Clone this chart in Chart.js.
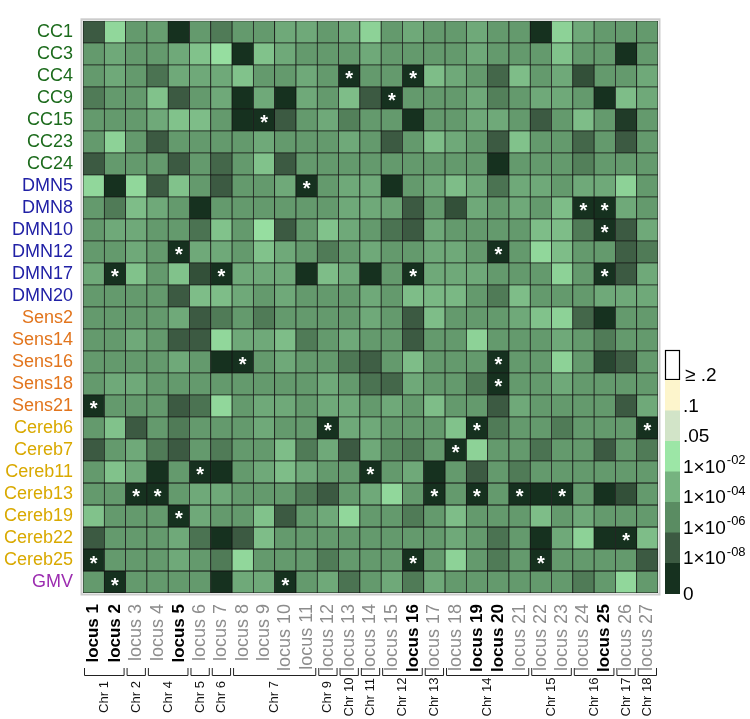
<!DOCTYPE html>
<html>
<head>
<meta charset="utf-8">
<script src="https://cdn.jsdelivr.net/npm/chart.js@4.4.1/dist/chart.umd.min.js"></script>
<style>
body{margin:0;background:#fff;}
</style>
</head>
<body>
<canvas id="grafico" width="750" height="719"></canvas>
<script>
// -log10(p) de cada celda, una lista por fenotipo (columnas = locus 1..27)
const vCC1    = [8, 2.6, 5.3, 5.1, 11, 5.3, 6.7, 5.3, 5.3, 4.5, 4.5, 5.3, 4.5, 2.8, 5.3, 4.5, 5.3, 5.3, 4.5, 5.3, 5.3, 11, 2.8, 4.5, 5.3, 5.3, 5.3];
const vCC3    = [5.3, 4.5, 5.3, 5.3, 4.5, 3.4, 2.3, 10, 3.4, 4.5, 5.3, 5.3, 5.3, 4.5, 5.3, 5.3, 5.3, 5.3, 4.5, 5.3, 5.3, 5.3, 3.4, 5.3, 5.3, 11, 5.3];
const vCC4    = [5.3, 4.5, 5.3, 7, 4.5, 4.5, 4.5, 3.4, 5.3, 5.3, 4.5, 5.3, 11, 5.3, 5.3, 11, 3.6, 4.5, 5.3, 7.5, 3.6, 5.3, 4.5, 8.5, 5.3, 5.3, 4.5];
const vCC9    = [6.7, 5.3, 5.3, 3.4, 8, 5.3, 4.5, 11, 4.5, 11, 4.5, 5.3, 3.6, 8, 11, 5.3, 5.3, 5.3, 4.5, 6.5, 5.3, 4.5, 4.5, 5.3, 11, 3.6, 4.5];
const vCC15   = [5.3, 5.3, 5.3, 4.5, 3.4, 3.6, 5.3, 10, 11, 8, 5.3, 4.5, 6.5, 5.3, 5.3, 11, 5.3, 5.3, 4.5, 4.5, 5.3, 8, 5.3, 3.6, 5.3, 9.5, 5.3];
const vCC23   = [5.3, 2.8, 5.3, 8, 5.3, 5.3, 5.3, 5.3, 4.5, 5.3, 5.3, 5.3, 4.5, 5.3, 8, 5.3, 3.6, 4.5, 5.3, 8, 3.4, 5.3, 5.3, 7.5, 5.3, 8, 5.3];
const vCC24   = [8, 5.3, 5.3, 5.3, 8, 5.3, 7.5, 5.3, 3.4, 8, 5.3, 5.3, 5.3, 5.3, 5.3, 5.3, 5.3, 5.3, 5.3, 11, 5.3, 5.3, 5.3, 6.5, 5.3, 5.3, 5.3];
const vDMN5   = [2.6, 11, 2.6, 8, 3.4, 5.3, 8, 5.3, 5.3, 4.5, 11, 5.3, 4.5, 4.5, 11, 5.3, 4.5, 3.6, 4.5, 7, 4.5, 4.5, 5.3, 4.5, 4.5, 2.8, 5.3];
const vDMN8   = [5.3, 6.7, 3.6, 4.5, 5.3, 11, 5.3, 5.3, 5.3, 5.3, 5.3, 5.3, 4.5, 4.5, 4.8, 8, 5.3, 8.5, 4.5, 5.3, 4.5, 5.3, 3.6, 11, 11, 4.5, 5.3];
const vDMN10  = [5.3, 4.5, 4.5, 5.3, 5.3, 7, 3.4, 5.3, 2.3, 8, 5.3, 3.4, 4.5, 5.3, 7, 8, 4.5, 5.3, 5.3, 5.3, 5.3, 3.6, 3.6, 6.7, 11, 8, 4.5];
const vDMN12  = [5.3, 5.3, 4.5, 5.3, 11, 4.5, 4.5, 5.3, 3.4, 4.5, 5.3, 6.7, 5.3, 4.5, 5.3, 5.3, 4.5, 4.5, 5.3, 11, 5.3, 2.6, 3.6, 5.3, 5.3, 7.8, 6.7];
const vDMN17  = [4.5, 11, 3.4, 5.3, 3.4, 8.5, 11, 4.5, 4.5, 4.5, 11, 3.6, 4.5, 11, 5.3, 11, 4.5, 4.5, 4.5, 5.3, 5.3, 5.3, 2.8, 5.3, 11, 8, 4.5];
const vDMN20  = [5.3, 5.3, 5.3, 5.3, 8, 3.6, 3.6, 4.5, 5.3, 4.5, 5.3, 5.3, 5.3, 4.5, 5.3, 3.6, 3.8, 3.8, 5.3, 6.7, 3.6, 5.3, 5.3, 5.3, 4.5, 4.5, 4.5];
const vSens2  = [5.3, 5.3, 5.3, 5.3, 4.5, 8, 6.7, 5.3, 6.7, 5.3, 5.3, 5.3, 5.3, 4.5, 5.3, 8, 3.6, 5.3, 5.3, 5.3, 4.5, 3.4, 2.8, 7.5, 11, 5.3, 5.3];
const vSens14 = [5.3, 5.3, 4.5, 5.3, 8, 8, 2.6, 4.5, 4.5, 3.6, 6.7, 5.3, 4.5, 5.3, 5.3, 8, 5.3, 5.3, 2.8, 5.3, 5.3, 5.3, 4.5, 5.3, 6.7, 5.3, 5.3];
const vSens16 = [5.3, 5.3, 5.3, 5.3, 4.5, 5.3, 11, 11, 5.3, 4.5, 5.3, 5.3, 6.8, 7.8, 5.3, 3.6, 5.3, 5.3, 5.3, 11, 5.3, 5.3, 2.8, 5.3, 9, 7.8, 5.3];
const vSens18 = [5.3, 4.5, 4.5, 5.3, 5.3, 5.3, 5.3, 5.3, 5.3, 5.3, 5.3, 4.5, 5.3, 7, 7.5, 4.5, 5.3, 5.3, 6.7, 11, 5.3, 5.3, 4.5, 5.3, 5.3, 5.3, 5.3];
const vSens21 = [11, 5.3, 5.3, 5.3, 8, 7, 2.6, 5.3, 4.5, 4.5, 5.3, 4.5, 4.5, 5.3, 4.5, 5.3, 3.6, 5.3, 5.3, 8, 4.5, 5.3, 5.3, 5.3, 5.3, 8, 4.5];
const vCereb6 = [5.3, 3.4, 8, 5.3, 6.7, 5.3, 5.3, 5.3, 4.5, 5.3, 5.3, 11, 4.5, 4.5, 5.3, 5.3, 5.3, 3.4, 11, 6.7, 5.3, 5.3, 6.7, 5.3, 5.3, 5.3, 11];
const vCereb7 = [8, 5.3, 4.5, 6.7, 8, 5.3, 6.7, 5.3, 5.3, 3.6, 6.7, 4.5, 8, 4.5, 6, 6.7, 5.3, 11, 2.8, 5.3, 5.3, 7, 5.3, 5.3, 8, 5.3, 6.7];
const vCereb11 = [5.3, 3.4, 4.5, 11, 5.3, 11, 11, 5.3, 4.5, 3.6, 4.5, 5.3, 5.3, 11, 5.3, 4.5, 11, 5.3, 8, 5.3, 6.7, 5.3, 5.3, 5.3, 5.3, 5.3, 5.3];
const vCereb13 = [5.3, 5.3, 11, 11, 5.3, 4.5, 4.5, 5.3, 5.3, 5.3, 6.7, 8, 5.3, 4.5, 2.6, 5.3, 11, 5.3, 11, 5.3, 11, 11, 11, 5.3, 11, 8.5, 5.3];
const vCereb19 = [3.4, 5.3, 5.3, 5.3, 11, 4.5, 5.3, 5.3, 3.4, 8, 5.3, 4.5, 2.6, 5.3, 5.3, 6.7, 5.3, 3.6, 5.3, 5.3, 5.3, 3.6, 5.3, 4.5, 5.3, 5.3, 5.3];
const vCereb22 = [8, 5.3, 5.3, 5.3, 4.5, 7, 11, 8, 3.6, 5.3, 5.3, 5.3, 5.3, 5.3, 5.3, 5.3, 5.3, 4.5, 5.3, 7, 5.3, 11, 4.5, 2.8, 11, 11, 3.6];
const vCereb25 = [11, 5.3, 5.3, 5.3, 4.5, 5.3, 6.7, 2.6, 5.3, 5.3, 5.3, 6.7, 5.3, 5.3, 5.3, 11, 5.3, 2.8, 5.3, 6.7, 5.3, 11, 5.3, 5.3, 5.3, 5.3, 8];
const vGMV    = [5.3, 11, 5.3, 5.3, 5.3, 5.3, 11, 4.5, 4.5, 11, 5.3, 4.5, 7, 5.3, 4.5, 6.7, 4.5, 5.3, 5.3, 5.3, 5.3, 5.3, 5.3, 6.7, 5.3, 2.6, 5.3];

const filas = ['CC1','CC3','CC4','CC9','CC15','CC23','CC24','DMN5','DMN8','DMN10','DMN12','DMN17','DMN20',
    'Sens2','Sens14','Sens16','Sens18','Sens21','Cereb6','Cereb7','Cereb11','Cereb13','Cereb19','Cereb22','Cereb25','GMV'];
const valores = [vCC1, vCC3, vCC4, vCC9, vCC15, vCC23, vCC24, vDMN5, vDMN8, vDMN10, vDMN12, vDMN17, vDMN20,
    vSens2, vSens14, vSens16, vSens18, vSens21, vCereb6, vCereb7, vCereb11, vCereb13, vCereb19, vCereb22, vCereb25, vGMV];

const loci = [];
for (let i = 1; i <= 27; i++) loci.push('locus ' + i);
const lociNegrita = [1, 2, 5, 16, 19, 20, 25];

// celdas marcadas con asterisco [fenotipo, locus]
const estrellas = [['CC4',13],['CC4',16],['CC9',15],['CC15',9],['DMN5',11],['DMN8',24],['DMN8',25],['DMN10',25],
    ['DMN12',5],['DMN12',20],['DMN17',2],['DMN17',7],['DMN17',16],['DMN17',25],['Sens16',8],['Sens16',20],['Sens18',20],
    ['Sens21',1],['Cereb6',12],['Cereb6',19],['Cereb6',27],['Cereb7',18],['Cereb11',6],['Cereb11',14],['Cereb13',3],
    ['Cereb13',4],['Cereb13',17],['Cereb13',19],['Cereb13',21],['Cereb13',23],['Cereb19',5],['Cereb22',26],['Cereb25',1],
    ['Cereb25',16],['Cereb25',22],['GMV',2],['GMV',10]];

const cromosomas = ['Chr 1','Chr 2','Chr 4','Chr 5','Chr 6','Chr 7','Chr 9','Chr 10','Chr 11','Chr 12','Chr 13','Chr 14','Chr 15','Chr 16','Chr 17','Chr 18'];
const cromInicio = [1, 3, 4, 6, 7, 8, 12, 13, 14, 15, 17, 18, 22, 24, 26, 27];
const cromFin    = [2, 3, 5, 6, 7, 11, 12, 13, 14, 16, 17, 21, 23, 25, 26, 27];

// escala de color (en -log10 p)
const escalaCortes = [0.7, 1, 1.3, 2, 4, 6, 8, 10];
const escalaColores = ['#ffffff','#fdf5cc','#d2e4c8','#9ce6a6','#76b380','#5a8c62','#3c5a42','#16311f'];
const escalaEtiquetas = ['\u2265 .2', '.1', '.05', '1\u00d710', '1\u00d710', '1\u00d710', '1\u00d710', '0'];
const escalaExp = ['', '', '', '-02', '-04', '-06', '-08', ''];

const fuente = "'Liberation Sans', Arial, sans-serif";

function hexRgb(h){
    return [parseInt(h.substr(1,2),16), parseInt(h.substr(3,2),16), parseInt(h.substr(5,2),16)];
}
function colorDe(v){
    if (v <= escalaCortes[0]) return escalaColores[0];
    let n = escalaCortes.length;
    if (v >= escalaCortes[n-1]) return escalaColores[n-1];
    for (let i = 0; i < n - 1; i++) {
        if (v >= escalaCortes[i] && v <= escalaCortes[i+1]) {
            let t = (v - escalaCortes[i]) / (escalaCortes[i+1] - escalaCortes[i]);
            let a = hexRgb(escalaColores[i]), b = hexRgb(escalaColores[i+1]);
            let c = a.map((x, k) => Math.round(x + (b[k] - x) * t));
            return 'rgb(' + c.join(',') + ')';
        }
    }
}
function colorFila(nombre){
    if (nombre.startsWith('CC')) return '#1c6b1c';
    if (nombre.startsWith('DMN')) return '#2121a6';
    if (nombre.startsWith('Sens')) return '#e2751d';
    if (nombre.startsWith('Cereb')) return '#d9a900';
    return '#9c2cb0';
}

let conjuntos = filas.map((nombre, r) => ({
    label: nombre,
    data: loci.map(() => [r, r + 1]),
    backgroundColor: valores[r].map(colorDe),
    borderColor: '#151515',
    borderWidth: 0.75,
    borderSkipped: false,
    barPercentage: 1,
    categoryPercentage: 1,
    grouped: false
}));

let marco = {
    id: 'marco',
    beforeDatasetsDraw(chart){
        let a = chart.chartArea, c = chart.ctx;
        c.save();
        c.strokeStyle = '#cccccc';
        c.lineWidth = 2;
        c.strokeRect(a.left - 1.5, a.top - 1.5, a.right - a.left + 3, a.bottom - a.top + 3);
        c.restore();
    }
};

let asteriscos = {
    id: 'asteriscos',
    afterDatasetsDraw(chart){
        let c = chart.ctx, xs = chart.scales.x, ys = chart.scales.y;
        c.save();
        c.fillStyle = '#ffffff';
        c.font = 'bold 20px ' + fuente;
        c.textAlign = 'center';
        c.textBaseline = 'middle';
        estrellas.forEach(e => {
            let x = xs.getPixelForValue(e[1] - 1);
            let y = ys.getPixelForValue(filas.indexOf(e[0]) + 0.5);
            c.fillText('*', x, y + 4);
        });
        c.restore();
    }
};

let extras = {
    id: 'extras',
    afterDraw(chart){
        let c = chart.ctx, xs = chart.scales.x;
        let medio = (xs.getPixelForValue(1) - xs.getPixelForValue(0)) / 2;
        c.save();
        // corchetes de cromosomas
        c.strokeStyle = '#222';
        c.lineWidth = 1;
        cromosomas.forEach((nombre, i) => {
            let x0 = xs.getPixelForValue(cromInicio[i] - 1) - medio + 1.5;
            let x1 = xs.getPixelForValue(cromFin[i] - 1) + medio - 1.5;
            c.beginPath();
            c.moveTo(x0, 668); c.lineTo(x0, 675.5); c.lineTo(x1, 675.5); c.lineTo(x1, 668);
            c.stroke();
            c.save();
            c.translate((x0 + x1) / 2, 697);
            c.rotate(-Math.PI / 2);
            c.fillStyle = '#111';
            c.font = '13px ' + fuente;
            c.textAlign = 'center';
            c.textBaseline = 'middle';
            c.fillText(nombre, 0, 0);
            c.restore();
        });
        // leyenda de color
        let lx = 665, lw = 15, y0 = 380, paso = 30.5;
        c.fillStyle = escalaColores[0];
        c.fillRect(lx, y0 - 30, lw, 30);
        c.strokeStyle = '#000';
        c.lineWidth = 1.2;
        c.strokeRect(lx + 0.5, y0 - 30 + 0.5, lw - 1, 29);
        for (let k = 1; k < escalaColores.length; k++) {
            c.fillStyle = escalaColores[k];
            c.fillRect(lx, y0 + (k - 1) * paso, lw, paso + 0.5);
        }
        c.fillStyle = '#000';
        c.textAlign = 'left';
        c.textBaseline = 'middle';
        escalaEtiquetas.forEach((txt, k) => {
            let y = y0 + k * paso - 4;
            if (k === escalaEtiquetas.length - 1) y = y0 + (k - 1) * paso + paso + 1;
            c.font = '19px ' + fuente;
            let x = k === 0 ? 685 : 683;
            c.fillText(txt, x, y);
            if (escalaExp[k]) {
                let w = c.measureText(txt).width;
                c.font = '13px ' + fuente;
                c.fillText(escalaExp[k], x + w + 1, y - 7);
            }
        });
        c.restore();
    }
};

let canvas = document.getElementById('grafico').getContext('2d');
let grafico = new Chart(canvas, {
    type: 'bar',
    data: {
        labels: loci,
        datasets: conjuntos
    },
    options: {
        responsive: false,
        animation: false,
        layout: { padding: { top: 4, right: 92, left: 0, bottom: 0 } },
        plugins: {
            legend: { display: false },
            tooltip: { enabled: false }
        },
        scales: {
            x: {
                grid: { display: false, drawTicks: false },
                border: { display: false },
                ticks: {
                    autoSkip: false,
                    minRotation: 90,
                    maxRotation: 90,
                    padding: 11,
                    color: ctx => lociNegrita.includes(ctx.index + 1) ? '#000' : '#8c8c8c',
                    font: ctx => lociNegrita.includes(ctx.index + 1)
                        ? { family: fuente, size: 17, weight: 'bold' }
                        : { family: fuente, size: 18, weight: 'normal' }
                },
                afterFit: s => { s.height = 126; }
            },
            y: {
                reverse: true,
                min: 0,
                max: filas.length,
                grid: { display: false, drawTicks: false },
                border: { display: false },
                afterBuildTicks: s => { s.ticks = filas.map((f, i) => ({ value: i + 0.5 })); },
                ticks: {
                    autoSkip: false,
                    padding: 10,
                    callback: (v, i) => filas[i],
                    color: ctx => colorFila(filas[ctx.index]),
                    font: { family: fuente, size: 18 }
                },
                afterFit: s => { s.width = 83; }
            }
        }
    },
    plugins: [marco, asteriscos, extras]
});
</script>
</body>
</html>
